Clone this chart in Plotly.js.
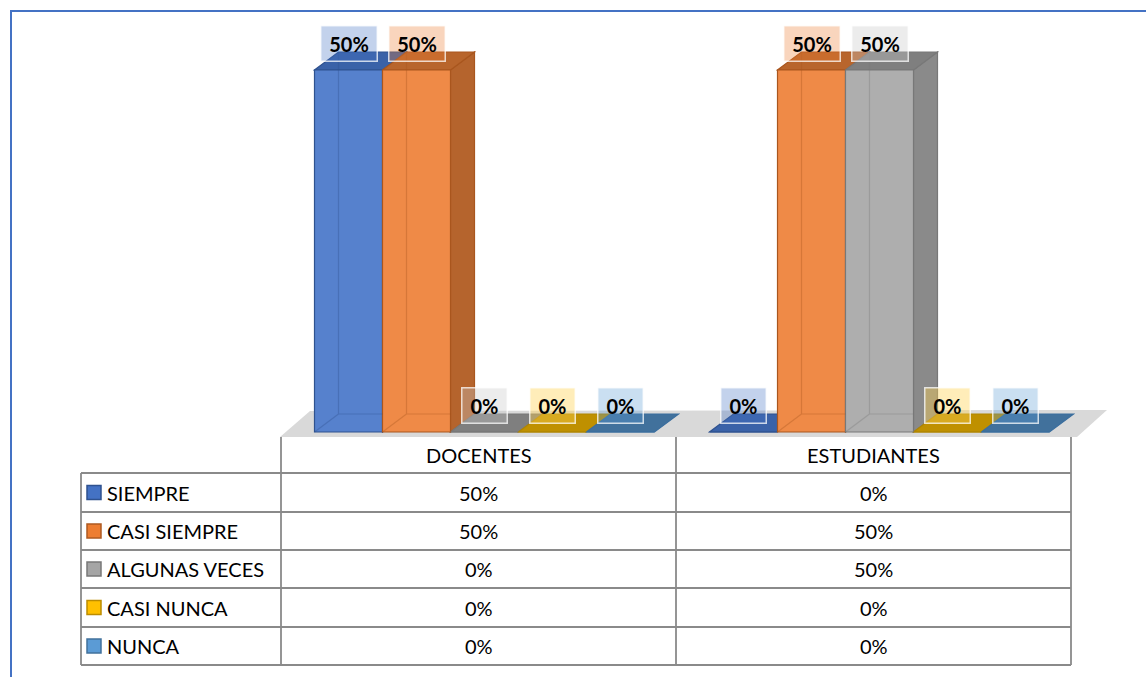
<!DOCTYPE html>
<html>
<head>
<meta charset="utf-8">
<script src="https://cdn.plot.ly/plotly-3.0.1.min.js"></script>
<style>
html,body{margin:0;padding:0;background:#fff;}
#chart{width:1146px;height:677px;}
</style>
</head>
<body>
<div id="chart"></div>
<script>
// ---- data ----
const categories = ['DOCENTES', 'ESTUDIANTES'];
const seriesNames = ['SIEMPRE', 'CASI SIEMPRE', 'ALGUNAS VECES', 'CASI NUNCA', 'NUNCA'];
const siempre = [0.5, 0];
const casiSiempre = [0.5, 0.5];
const algunasVeces = [0, 0.5];
const casiNunca = [0, 0];
const nunca = [0, 0];
const seriesValues = [siempre, casiSiempre, algunasVeces, casiNunca, nunca];

// ---- styles ----
const frontColors = ['#5681CD', '#EF8A47', '#AEAEAE', '#FFC000', '#5B9BD5'];
const edgeColors  = ['#2F528F', '#A9561E', '#787878', '#B08500', '#3A6E9E'];
const topColors   = ['#3A62A8', '#B8652C', '#7F7F7F', '#BF9000', '#41719C'];
const sideColors  = ['#33589A', '#B5642D', '#8A8A8A', '#A87F00', '#3A6690'];
const labelFill   = ['rgba(68,114,196,0.32)', 'rgba(237,125,49,0.32)', 'rgba(200,200,200,0.35)', 'rgba(255,210,80,0.40)', 'rgba(91,155,213,0.32)'];
const legendFill  = ['#4472C4', '#ED7D31', '#A5A5A5', '#FFC000', '#5B9BD5'];
const legendEdge  = ['#2F528F', '#AE5A21', '#787878', '#BC8C00', '#41719C'];

const W = 1146, H = 677;
const X0PX = 478.5, XUNIT = 395;
const Y0PX = 432, YUNIT = 724;
const X = px => (px - X0PX) / XUNIT;
const Y = py => (Y0PX - py) / YUNIT;
const PX = px => px / W;
const PY = py => 1 - py / H;

const barW = 68 / XUNIT;
const shift = 6 / XUNIT;
const DX = 24 / XUNIT, DY = 18 / YUNIT;
const fmt = v => Math.round(v * 100) + '%';

const traces = [];
const shapes = [];
const annotations = [];

// floor
shapes.push({
  type: 'path', layer: 'below', xref: 'x', yref: 'y',
  path: `M ${X(280)},${Y(437)} L ${X(310)},${Y(411)} L ${X(1107)},${Y(410)} L ${X(1077)},${Y(437)} Z`,
  fillcolor: '#D9D9D9', line: {width: 0}
});

const aboveLines = [];
seriesNames.forEach((name, j) => {
  const vals = seriesValues[j];
  const off = shift + (j - 2.5) * barW;
  traces.push({
    type: 'bar', name: name, x: categories.map((c, i) => i), y: vals,
    width: barW, offset: off,
    marker: {color: frontColors[j], line: {color: edgeColors[j], width: 1.2}},
    hoverinfo: 'skip', showlegend: false
  });
});

categories.forEach((c, i) => {
  seriesNames.forEach((name, j) => {
    const v = seriesValues[j][i];
    const x0 = i + shift + (j - 2.5) * barW;
    const x1 = x0 + barW;
    if (v > 0) {
      shapes.push({
        type: 'path', layer: 'below', xref: 'x', yref: 'y',
        path: `M ${x1},${v} L ${x1 + DX},${v + DY} L ${x1 + DX},${DY} L ${x1},0 Z`,
        fillcolor: sideColors[j], line: {color: edgeColors[j], width: 1.2}
      });
      aboveLines.push({
        type: 'path', layer: 'above', xref: 'x', yref: 'y',
        path: `M ${x0 + DX},${v + DY} L ${x0 + DX},${DY} L ${x1},${DY} M ${x0},0 L ${x0 + DX},${DY}`,
        line: {color: edgeColors[j], width: 1.2}, opacity: 0.35
      });
    }
    shapes.push({
      type: 'path', layer: 'below', xref: 'x', yref: 'y',
      path: `M ${x0},${v} L ${x1},${v} L ${x1 + DX},${v + DY} L ${x0 + DX},${v + DY} Z`,
      fillcolor: topColors[j], line: {color: edgeColors[j], width: 1.2}
    });
    annotations.push({
      xref: 'x', yref: 'y', x: x0 + barW / 2, y: v, yshift: 27,
      text: '<b>' + fmt(v) + '</b>', showarrow: false,
      font: {family: 'Lato, sans-serif', size: 20, color: '#000'},
      bgcolor: labelFill[j], bordercolor: 'rgba(255,255,255,0.75)', borderwidth: 1.5,
      borderpad: 0, width: v > 0 ? 55 : 44, height: 34, xanchor: 'center', yanchor: 'middle'
    });
  });
});
aboveLines.forEach(s => shapes.push(s));

// ---- data table ----
const tblLeft = 81, colA = 281, colB = 676, colC = 1071;
const rowLines = [473, 512, 550, 588, 627, 665];
const gridColor = '#8A8A8A';
const line = (x0, y0, x1, y1) => ({
  type: 'line', xref: 'paper', yref: 'paper', layer: 'above',
  x0: PX(x0), y0: PY(y0), x1: PX(x1), y1: PY(y1),
  line: {color: gridColor, width: 1.8}
});
rowLines.forEach(y => shapes.push(line(tblLeft, y, colC, y)));
shapes.push(line(tblLeft, 473, tblLeft, 665));
[colA, colB, colC].forEach(x => shapes.push(line(x, 437, x, 665)));

const colCenters = [(colA + colB) / 2, (colB + colC) / 2];
const tableFont = {family: 'Lato, sans-serif', size: 20, color: '#000'};
categories.forEach((c, i) => {
  annotations.push({xref: 'paper', yref: 'paper', x: PX(colCenters[i]), y: PY(455),
    text: c, showarrow: false, font: tableFont, xanchor: 'center', yanchor: 'middle'});
});
seriesNames.forEach((name, j) => {
  const yc = (rowLines[j] + rowLines[j + 1]) / 2;
  shapes.push({type: 'rect', xref: 'paper', yref: 'paper', layer: 'above',
    x0: PX(87), x1: PX(101), y0: PY(yc - 7), y1: PY(yc + 7),
    fillcolor: legendFill[j], line: {color: legendEdge[j], width: 1.5}});
  annotations.push({xref: 'paper', yref: 'paper', x: PX(105), y: PY(yc),
    text: name, showarrow: false, font: tableFont, xanchor: 'left', yanchor: 'middle'});
  categories.forEach((c, i) => {
    annotations.push({xref: 'paper', yref: 'paper', x: PX(colCenters[i]), y: PY(yc),
      text: fmt(seriesValues[j][i]), showarrow: false, font: tableFont, xanchor: 'center', yanchor: 'middle'});
  });
});

// outer frame (blue)
shapes.push({type: 'line', xref: 'paper', yref: 'paper', layer: 'above',
  x0: PX(10), y0: PY(11), x1: PX(1146), y1: PY(11), line: {color: '#4472C4', width: 2}});
shapes.push({type: 'line', xref: 'paper', yref: 'paper', layer: 'above',
  x0: PX(11), y0: PY(11), x1: PX(11), y1: PY(677), line: {color: '#4472C4', width: 2}});

const layout = {
  width: W, height: H,
  margin: {l: 0, r: 0, t: 0, b: 0},
  paper_bgcolor: '#fff', plot_bgcolor: 'rgba(0,0,0,0)',
  barmode: 'overlay', showlegend: false,
  xaxis: {range: [X(0), X(W)], visible: false, fixedrange: true},
  yaxis: {range: [Y(H), Y(0)], visible: false, fixedrange: true},
  shapes: shapes, annotations: annotations
};
Plotly.newPlot('chart', traces, layout, {displayModeBar: false, staticPlot: true});
</script>
</body>
</html>
